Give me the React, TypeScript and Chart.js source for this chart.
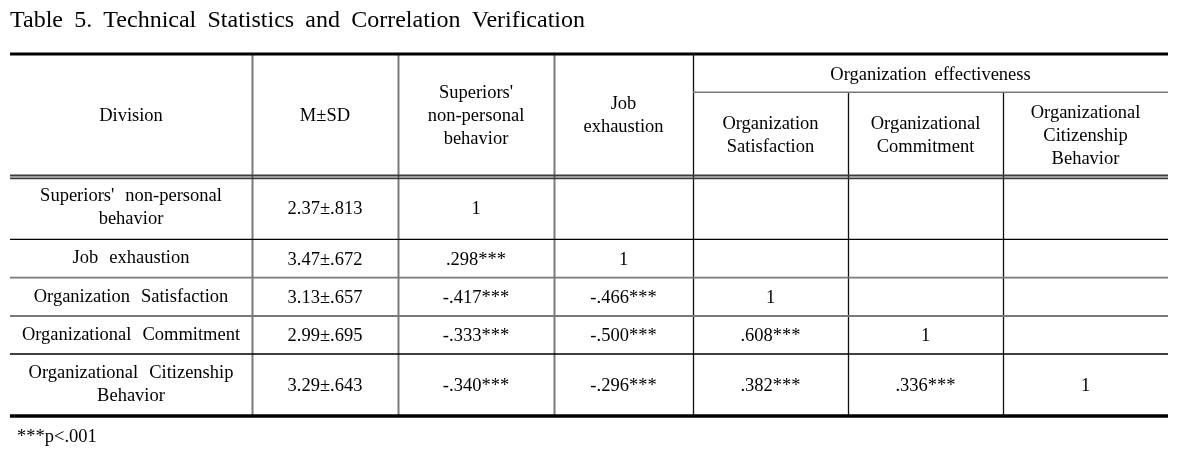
import React, { useEffect, useRef } from "react";
import { Chart, registerables } from "chart.js";

Chart.register(...registerables);

// ---------- data ----------
const tableTitle = "Table 5. Technical Statistics and Correlation Verification";
const footnote = "***p<.001";
const headerLabels = ["Division", "M±SD", "Superiors'\nnon-personal\nbehavior", "Job\nexhaustion"];
const groupHeader = "Organization effectiveness";
const subHeaderLabels = ["Organization\nSatisfaction", "Organizational\nCommitment", "Organizational\nCitizenship\nBehavior"];
const divisions = [
  "Superiors' non-personal\nbehavior",
  "Job exhaustion",
  "Organization Satisfaction",
  "Organizational Commitment",
  "Organizational Citizenship\nBehavior",
];
const meanSD = ["2.37±.813", "3.47±.672", "3.13±.657", "2.99±.695", "3.29±.643"];
const corrSuperiors = ["1", ".298***", "-.417***", "-.333***", "-.340***"];
const corrJobExhaustion = ["", "1", "-.466***", "-.500***", "-.296***"];
const corrOrgSatisfaction = ["", "", "1", ".608***", ".382***"];
const corrOrgCommitment = ["", "", "", "1", ".336***"];
const corrOrgCitizenship = ["", "", "", "", "1"];

// ---------- layout (table units) ----------
const COL_EDGES = [0, 242, 388, 544, 683, 838, 993, 1158];
const COL_LINE_DARK = [false, false, false, true, true, true];
const SUB_LINE = 38.3;
const HEADER_BOTTOM = 123;
const ROW_EDGES = [123, 185.3, 223.7, 262, 300, 362];
const ROW_LINE_DARK = [true, false, false, true];
const FONT = '"Liberation Serif", "Times New Roman", serif';
const BODY_SIZE = 18.5;
const LINE_H = 23;

function drawSpaced(ctx: CanvasRenderingContext2D, text: string, x: number, y: number, gap: number, align: "center" | "left") {
  const words = text.split(" ");
  const widths = words.map((w) => ctx.measureText(w).width);
  const total = widths.reduce((a, b) => a + b, 0) + gap * (words.length - 1);
  let cx = align === "center" ? x - total / 2 : x;
  ctx.textAlign = "left";
  words.forEach((w, i) => {
    ctx.fillText(w, cx, y);
    cx += widths[i] + gap;
  });
}

function drawCell(ctx: CanvasRenderingContext2D, text: string, cx: number, cy: number, gap: number) {
  if (!text) return;
  const lines = text.split("\n");
  const n = lines.length;
  lines.forEach((ln, i) => {
    const y = cy + (i - (n - 1) / 2) * LINE_H + 0.34 * BODY_SIZE;
    drawSpaced(ctx, ln, cx, y, gap, "center");
  });
}

const tablePlugin = {
  id: "tablePlugin",
  afterDraw(chart: any) {
    const ctx: CanvasRenderingContext2D = chart.ctx;
    const xs = chart.scales.x;
    const ys = chart.scales.y;
    const px = (v: number) => xs.getPixelForValue(v);
    const py = (v: number) => ys.getPixelForValue(v);
    ctx.save();
    ctx.fillStyle = "#000";
    ctx.textBaseline = "alphabetic";

    // title
    ctx.font = `24px ${FONT}`;
    drawSpaced(ctx, tableTitle, 10, 27, 11.2, "left");

    const hLine = (x1: number, x2: number, y: number, w: number, color: string) => {
      ctx.beginPath();
      ctx.strokeStyle = color;
      ctx.lineWidth = w;
      ctx.moveTo(px(x1), py(y));
      ctx.lineTo(px(x2), py(y));
      ctx.stroke();
    };
    const vLine = (x: number, y1: number, y2: number, w: number, color: string) => {
      ctx.beginPath();
      ctx.strokeStyle = color;
      ctx.lineWidth = w;
      ctx.moveTo(Math.round(px(x)) + 0.5, py(y1));
      ctx.lineTo(Math.round(px(x)) + 0.5, py(y2));
      ctx.stroke();
    };

    const left = COL_EDGES[0];
    const right = COL_EDGES[COL_EDGES.length - 1];

    // vertical lines
    for (let i = 1; i < COL_EDGES.length - 1; i++) {
      const top = i >= 5 ? SUB_LINE : 0;
      vLine(COL_EDGES[i], top, ROW_EDGES[ROW_EDGES.length - 1], COL_LINE_DARK[i - 1] ? 1.3 : 2, COL_LINE_DARK[i - 1] ? "#111" : "#7a7a7a");
    }
    // sub header line
    hLine(COL_EDGES[4], right, SUB_LINE, 1.6, "#7a7a7a");
    // header double line
    hLine(left, right, HEADER_BOTTOM - 1.5, 1.8, "#3c3c3c");
    hLine(left, right, HEADER_BOTTOM + 1.3, 1.8, "#3c3c3c");
    // row lines
    for (let r = 1; r < ROW_EDGES.length - 1; r++) {
      const dark = ROW_LINE_DARK[r - 1];
      hLine(left, right, ROW_EDGES[r], dark ? 1.3 : 1.8, dark ? "#000" : "#7a7a7a");
    }
    // thick top & bottom
    hLine(left, right, 0, 3, "#000");
    hLine(left, right, ROW_EDGES[ROW_EDGES.length - 1], 3.5, "#000");

    // header text
    ctx.font = `${BODY_SIZE}px ${FONT}`;
    const colC = (i: number) => (px(COL_EDGES[i]) + px(COL_EDGES[i + 1])) / 2;
    const headMid = py((0 + HEADER_BOTTOM) / 2) - 1;
    headerLabels.forEach((t, i) => drawCell(ctx, t, colC(i), headMid, 8));
    drawCell(ctx, groupHeader, (px(COL_EDGES[4]) + px(right)) / 2, py(SUB_LINE / 2) + 1, 8);
    const subMid = py((SUB_LINE + HEADER_BOTTOM) / 2);
    subHeaderLabels.forEach((t, i) => drawCell(ctx, t, colC(4 + i), subMid, 8));

    // body
    const columns = [divisions, meanSD, corrSuperiors, corrJobExhaustion, corrOrgSatisfaction, corrOrgCommitment, corrOrgCitizenship];
    for (let r = 0; r < divisions.length; r++) {
      const cy = py((ROW_EDGES[r] + ROW_EDGES[r + 1]) / 2);
      columns.forEach((col, c) => {
        drawCell(ctx, col[r], colC(c), c === 0 ? cy - 1.5 : cy, 11);
      });
    }

    // footnote
    ctx.font = `${BODY_SIZE}px ${FONT}`;
    drawSpaced(ctx, footnote, 17, 441.5, 8, "left");
    ctx.restore();
  },
};

export default function App() {
  const canvasRef = useRef<HTMLCanvasElement | null>(null);
  useEffect(() => {
    if (!canvasRef.current) return;
    const chart = new Chart(canvasRef.current, {
      type: "scatter",
      data: { datasets: [] },
      options: {
        animation: false,
        responsive: false,
        devicePixelRatio: 1,
        events: [],
        layout: { padding: { left: 10, right: 20, top: 54, bottom: 38 } },
        plugins: {
          legend: { display: false },
          tooltip: { enabled: false },
          title: { display: false },
        },
        scales: {
          x: { type: "linear", display: false, min: 0, max: 1158 },
          y: { type: "linear", display: false, min: 0, max: 362, reverse: true },
        },
      },
      plugins: [tablePlugin],
    } as any);
    return () => chart.destroy();
  }, []);
  return (
    <div style={{ position: "absolute", left: 0, top: 0, width: 1188, height: 454, background: "#fff" }}>
      <canvas ref={canvasRef} width={1188} height={454} style={{ display: "block" }} />
    </div>
  );
}
